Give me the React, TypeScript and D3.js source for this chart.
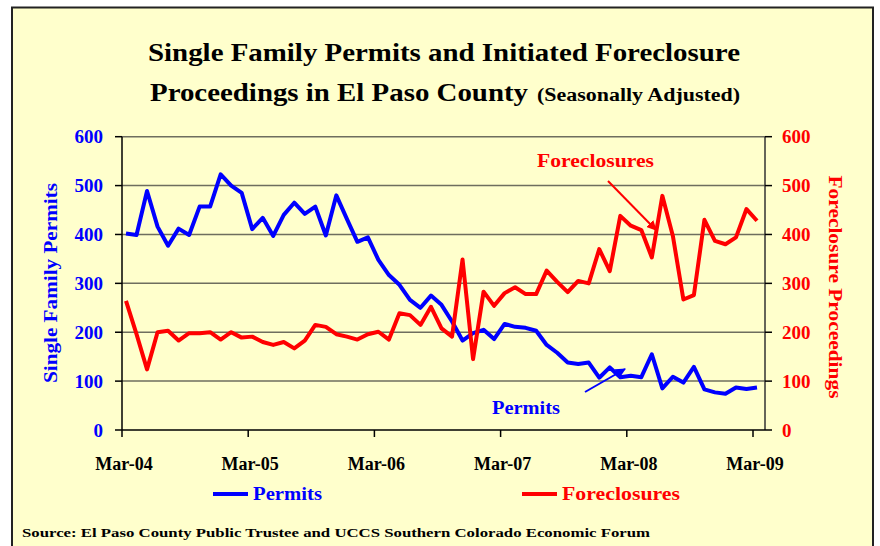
import * as d3 from 'd3'
import { useEffect, useRef } from 'react'

// monthly, Mar-04 .. Mar-09
const permits = [
  402, 399, 489, 416, 377, 412, 399, 457, 457, 523, 500, 485,
  411, 434, 397, 440, 465, 442, 457, 398, 480, 432, 385, 394,
  348, 317, 297, 266, 250, 275, 256, 222, 183, 198, 205, 186,
  217, 211, 209, 203, 174, 158, 138, 135, 138, 107, 128, 108,
  111, 108, 155, 85, 109, 97, 129, 83, 77, 74, 87, 84, 87,
]
const foreclosures = [
  264, 196, 124, 200, 203, 183, 198, 198, 200, 185, 200, 189,
  191, 180, 174, 180, 167, 183, 215, 211, 196, 191, 185, 196,
  201, 185, 239, 235, 215, 252, 208, 191, 349, 145, 283, 254,
  280, 292, 278, 278, 326, 303, 282, 305, 300, 370, 325, 438,
  418, 409, 353, 479, 397, 267, 276, 430, 387, 380, 394, 452, 428,
]
const yearLabels = ['Mar-04', 'Mar-05', 'Mar-06', 'Mar-07', 'Mar-08', 'Mar-09']
const yTicks = [0, 100, 200, 300, 400, 500, 600]

const W = 880, H = 546
const left = 122, right = 765, top = 136.7, bottom = 430
const serif = '"Liberation Serif", "Times New Roman", serif'
const BLUE = '#0000ff', RED = '#ff0000'

const chart = (node: SVGSVGElement) => {
  const svg = d3.select(node)
  svg.selectAll('*').remove()

  const x = d3.scaleLinear().domain([0, 60]).range([126, 757])
  const y = d3.scaleLinear().domain([0, 600]).range([bottom, top])

  svg.append('rect').attr('width', W).attr('height', H).attr('fill', '#fff')
  svg.append('rect')
    .attr('x', 12).attr('y', 7.5).attr('width', 861).attr('height', H)
    .attr('fill', '#ffffcc').attr('stroke', '#222').attr('stroke-width', 2)

  // title
  const t = svg.append('g').attr('font-family', serif).attr('font-weight', 'bold').attr('fill', '#000')
  t.append('text').attr('x', 148).attr('y', 61).attr('font-size', 26)
    .attr('textLength', 592).attr('lengthAdjust', 'spacingAndGlyphs')
    .text('Single Family Permits and Initiated Foreclosure')
  t.append('text').attr('x', 150).attr('y', 101).attr('font-size', 26)
    .attr('textLength', 378).attr('lengthAdjust', 'spacingAndGlyphs')
    .text('Proceedings in El Paso County')
  t.append('text').attr('x', 537).attr('y', 101).attr('font-size', 18)
    .attr('textLength', 203).attr('lengthAdjust', 'spacingAndGlyphs')
    .text('(Seasonally Adjusted)')

  // grid
  svg.append('g')
    .selectAll('line')
    .data(yTicks.slice(1))
    .join('line')
      .attr('x1', left).attr('x2', right)
      .attr('y1', d => y(d)).attr('y2', d => y(d))
      .attr('stroke', '#6e6e5e').attr('stroke-width', 1.5)

  // axes
  const tickX = (i: number) => x(i * 12) - 4
  const axes = svg.append('g').attr('stroke', '#000').attr('stroke-width', 1.5)
  axes.append('line').attr('x1', left).attr('x2', left).attr('y1', top).attr('y2', bottom)
  axes.append('line').attr('x1', right).attr('x2', right).attr('y1', top).attr('y2', bottom).attr('stroke', '#333')
  axes.append('line').attr('x1', left).attr('x2', right).attr('y1', bottom).attr('y2', bottom)
  axes.selectAll('.lt').data(yTicks).join('line').attr('class', 'lt')
    .attr('x1', left - 7).attr('x2', left).attr('y1', d => y(d)).attr('y2', d => y(d))
  axes.selectAll('.rt').data(yTicks).join('line').attr('class', 'rt')
    .attr('x1', right).attr('x2', right + 7).attr('y1', d => y(d)).attr('y2', d => y(d))
  axes.selectAll('.xt').data(yearLabels).join('line').attr('class', 'xt')
    .attr('x1', (_, i) => tickX(i)).attr('x2', (_, i) => tickX(i))
    .attr('y1', bottom).attr('y2', bottom + 7)

  const labels = svg.append('g').attr('font-family', serif).attr('font-weight', 'bold').attr('font-size', 19)
  labels.selectAll('.ly').data(yTicks).join('text').attr('class', 'ly')
    .attr('x', 103).attr('y', d => y(d)).attr('dy', '0.35em')
    .attr('text-anchor', 'end').attr('fill', BLUE).text(d => d)
  labels.selectAll('.ry').data(yTicks).join('text').attr('class', 'ry')
    .attr('x', 782).attr('y', d => y(d)).attr('dy', '0.35em')
    .attr('fill', RED).text(d => d)
  labels.selectAll('.lx').data(yearLabels).join('text').attr('class', 'lx')
    .attr('x', (_, i) => tickX(i) + 2).attr('y', 470).attr('font-size', 18)
    .attr('text-anchor', 'middle').attr('fill', '#000').text(d => d)

  labels.append('text')
    .attr('transform', 'translate(57,283) rotate(-90)')
    .attr('text-anchor', 'middle').attr('fill', BLUE)
    .attr('textLength', 200).attr('lengthAdjust', 'spacingAndGlyphs')
    .text('Single Family Permits')
  labels.append('text')
    .attr('transform', 'translate(829,287) rotate(90)')
    .attr('text-anchor', 'middle').attr('fill', RED)
    .attr('textLength', 223).attr('lengthAdjust', 'spacingAndGlyphs')
    .text('Foreclosure Proceedings')

  // series
  const line = d3.line<number>().x((_, i) => x(i)).y(d => y(d))
  svg.append('path').attr('d', line(permits)).attr('fill', 'none')
    .attr('stroke', BLUE).attr('stroke-width', 4).attr('stroke-linejoin', 'round')
  svg.append('path').attr('d', line(foreclosures)).attr('fill', 'none')
    .attr('stroke', RED).attr('stroke-width', 4).attr('stroke-linejoin', 'round')

  // annotations
  const defs = svg.append('defs')
  ;[['ar', RED], ['ab', BLUE]].forEach(([id, c]) => {
    defs.append('marker').attr('id', id).attr('viewBox', '0 0 10 10')
      .attr('refX', 9).attr('refY', 5).attr('markerWidth', 5).attr('markerHeight', 5)
      .attr('orient', 'auto')
      .append('path').attr('d', 'M0,0L10,5L0,10z').attr('fill', c)
  })
  svg.append('line').attr('x1', 608).attr('y1', 181).attr('x2', 656).attr('y2', 230)
    .attr('stroke', RED).attr('stroke-width', 2).attr('marker-end', 'url(#ar)')
  svg.append('line').attr('x1', 585).attr('y1', 392).attr('x2', 625).attr('y2', 369)
    .attr('stroke', BLUE).attr('stroke-width', 2).attr('marker-end', 'url(#ab)')
  labels.append('text').attr('x', 537).attr('y', 167).attr('fill', RED).attr('font-size', 18)
    .attr('textLength', 117).attr('lengthAdjust', 'spacingAndGlyphs').text('Foreclosures')
  labels.append('text').attr('x', 492).attr('y', 414).attr('fill', BLUE).attr('font-size', 18)
    .attr('textLength', 68).attr('lengthAdjust', 'spacingAndGlyphs').text('Permits')

  // legend
  const lg = svg.append('g').attr('font-family', serif).attr('font-weight', 'bold').attr('font-size', 19)
  lg.append('line').attr('x1', 213).attr('x2', 248).attr('y1', 494).attr('y2', 494)
    .attr('stroke', BLUE).attr('stroke-width', 4)
  lg.append('text').attr('x', 253).attr('y', 500).attr('fill', BLUE)
    .attr('textLength', 69).attr('lengthAdjust', 'spacingAndGlyphs').text('Permits')
  lg.append('line').attr('x1', 522).attr('x2', 557).attr('y1', 494).attr('y2', 494)
    .attr('stroke', RED).attr('stroke-width', 4)
  lg.append('text').attr('x', 562).attr('y', 500).attr('fill', RED)
    .attr('textLength', 118).attr('lengthAdjust', 'spacingAndGlyphs').text('Foreclosures')

  svg.append('text').attr('x', 22).attr('y', 537)
    .attr('font-family', serif).attr('font-weight', 'bold').attr('font-size', 13.5)
    .attr('textLength', 628).attr('lengthAdjust', 'spacingAndGlyphs')
    .text('Source: El Paso County Public Trustee and UCCS Southern Colorado Economic Forum')
}

export default function App() {
  const ref = useRef<SVGSVGElement>(null)
  useEffect(() => {
    if (ref.current) chart(ref.current)
  }, [])
  return (
    <svg ref={ref} width={W} height={H}
      style={{ position: 'absolute', left: 0, top: 0, display: 'block' }} />
  )
}
